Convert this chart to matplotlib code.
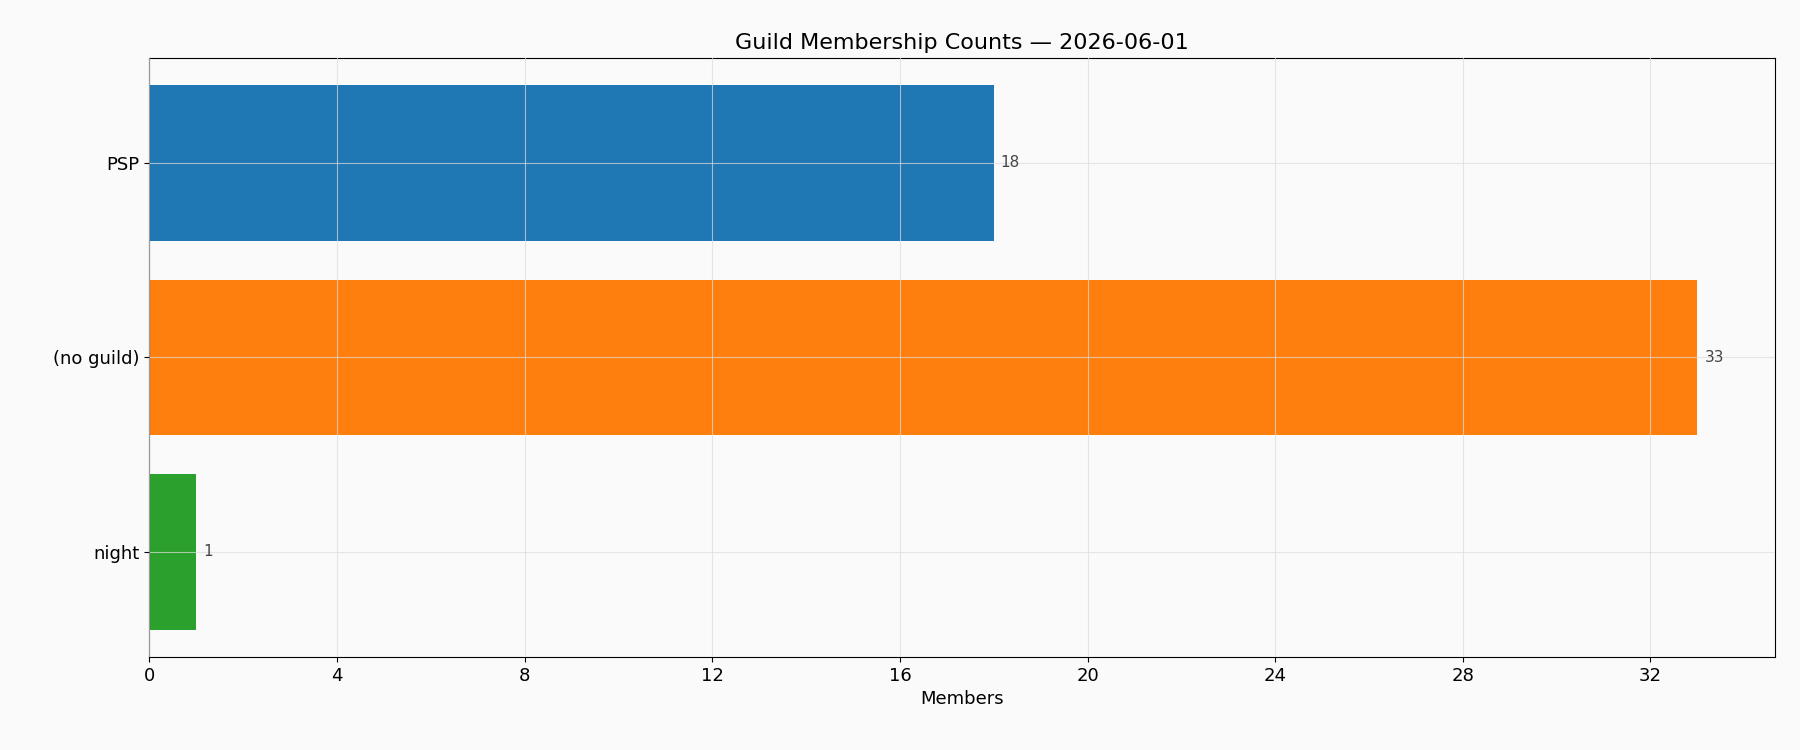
import matplotlib.pyplot as plt
from matplotlib.ticker import MultipleLocator

guilds = ['PSP', '(no guild)', 'night']
members = [18, 33, 1]
colors = ['#1f77b4', '#ff7f0e', '#2ca02c']

fig, ax = plt.subplots(figsize=(18, 7.5), dpi=100)
fig.patch.set_facecolor('#fafafa')
ax.set_facecolor('#fafafa')

bars = ax.barh(guilds, members, color=colors, zorder=2)
ax.invert_yaxis()
for b, v in zip(bars, members):
	ax.text(b.get_width() + 0.15, b.get_y() + b.get_height() / 2, str(v),
		va='center', ha='left', fontsize=11, color='#444444')

ax.xaxis.set_major_locator(MultipleLocator(4))
ax.grid(True, color='#dddddd', linewidth=0.8, zorder=3, alpha=0.7)
ax.set_axisbelow(False)
ax.set_xlabel('Members', fontsize=13)
ax.set_title('Guild Membership Counts \u2014 2026-06-01', fontsize=16)
ax.tick_params(labelsize=13)

fig.subplots_adjust(left=0.083, right=0.986, top=0.923, bottom=0.124)
fig.savefig('out.png', dpi=100, facecolor=fig.get_facecolor())
